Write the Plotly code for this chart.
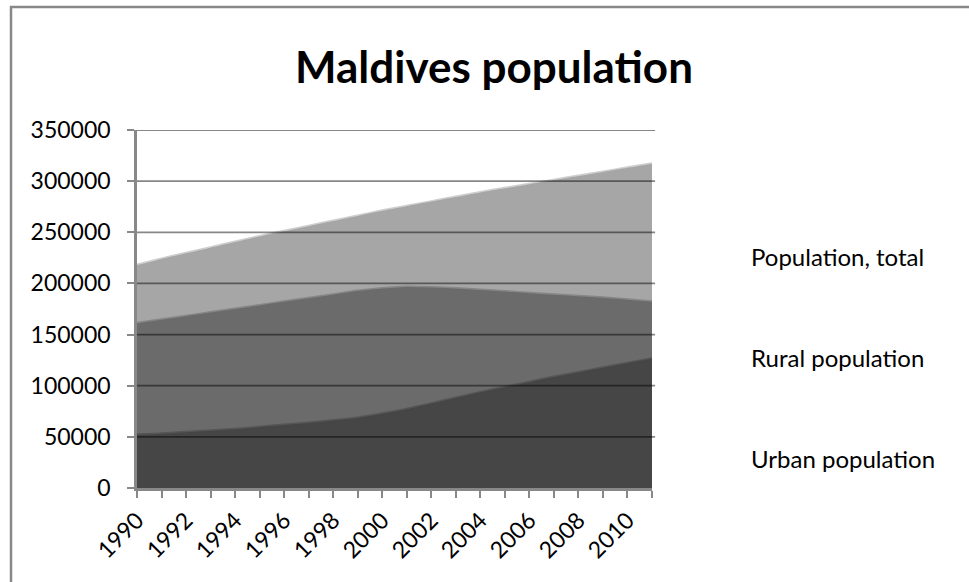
import plotly.graph_objects as go

# ---- data ----
years = list(range(1990, 2012))
population_total = [218000, 224000, 229500, 235000, 240500, 246000, 251000, 256000,
                    261000, 266000, 271000, 275500, 280000, 284500, 289000, 293000,
                    297000, 301000, 305000, 309000, 313000, 317000]
rural_population = [161000, 164500, 168000, 171500, 175000, 178500, 182000, 185500,
                    189000, 192500, 195000, 196500, 196000, 195000, 193500, 192000,
                    190500, 189000, 187500, 186000, 184000, 182000]
urban_population = [52000, 53000, 54500, 56000, 57500, 59500, 61500, 63500,
                    66000, 68500, 72500, 77000, 82500, 88000, 93500, 98500,
                    103500, 108500, 113000, 117500, 122000, 126500]
series_names = ["Population, total", "Rural population", "Urban population"]
y_ticks = [0, 50000, 100000, 150000, 200000, 250000, 300000, 350000]
x_tick_text = [str(y) if y % 2 == 0 else "" for y in years]
title_text = "Maldives population"

FONT = "Lato"
fills = ["#a6a6a6", "#6b6b6b", "#464646"]
edges = ["rgba(166,166,166,0.55)", "rgba(107,107,107,0.55)", "rgba(70,70,70,0.55)"]

fig = go.Figure()
for name, vals, fc, ec in zip(series_names,
                              [population_total, rural_population, urban_population],
                              fills, edges):
    fig.add_trace(go.Scatter(x=years, y=vals, name=name, mode="lines",
                             fill="tozeroy", fillcolor=fc,
                             line=dict(color=ec, width=3, shape="spline", smoothing=0.6),
                             showlegend=False, hoverinfo="x+y+name"))

W, H = 969, 582
L, R, T, B = 137, 317, 130, 94

# gridlines drawn above the areas (semi-transparent dark)
shapes = []
for v in y_ticks[1:]:
    shapes.append(dict(type="line", xref="paper", yref="y", x0=0, x1=1.006, y0=v, y1=v,
                       line=dict(color="rgba(0,0,0,0.47)", width=1.8), layer="above"))

# outer chart border (left and top)
pw, ph = W - L - R, H - T - B
def px_x(p): return (p - L) / pw
def px_y(p): return (H - B - p) / ph
shapes.append(dict(type="line", xref="paper", yref="paper",
                   x0=px_x(11), x1=px_x(11), y0=px_y(6), y1=px_y(582),
                   line=dict(color="#888888", width=2.5)))
shapes.append(dict(type="line", xref="paper", yref="paper",
                   x0=px_x(10), x1=px_x(969), y0=px_y(7), y1=px_y(7),
                   line=dict(color="#888888", width=2.5)))

# legend labels (text only, as in reference)
legend_y_px = [256, 357, 458]
annotations = []
for name, ypx in zip(series_names, legend_y_px):
    annotations.append(dict(text=name, xref="paper", yref="paper",
                            x=px_x(749), y=px_y(ypx), xanchor="left", yanchor="middle",
                            showarrow=False, font=dict(family=FONT, size=24, color="#000000")))

fig.update_layout(
    width=W, height=H,
    margin=dict(l=L, r=R, t=T, b=B, pad=0),
    paper_bgcolor="white", plot_bgcolor="white",
    title=dict(text="<b>" + title_text + "</b>", x=494 / W, xanchor="center",
               y=1 - 68 / H, yanchor="middle", yref="container",
               font=dict(family=FONT, size=44, color="#000000")),
    shapes=shapes, annotations=annotations,
    font=dict(family=FONT, size=23, color="#000000"),
)
fig.update_xaxes(range=[1990, 2011], tickvals=years, ticktext=x_tick_text,
                 tickangle=-45, ticks="outside", ticklen=7, tickwidth=2, tickcolor="#888888",
                 showline=True, linecolor="#888888", linewidth=2.5, showgrid=False,
                 zeroline=False, layer="above traces",
                 tickfont=dict(family=FONT, size=23, color="#000000"))
fig.update_yaxes(range=[0, 350000], tickvals=y_ticks, ticktext=[str(v) for v in y_ticks],
                 ticks="outside", ticklen=7, tickwidth=2, tickcolor="#888888",
                 showline=True, linecolor="#888888", linewidth=2.5, showgrid=False,
                 zeroline=False, layer="above traces", ticklabelstandoff=12,
                 tickfont=dict(family=FONT, size=23, color="#000000"))

fig.write_html("out.html", config={"displayModeBar": False},
               post_script="document.body.style.margin='0';document.body.style.overflow='hidden';")
